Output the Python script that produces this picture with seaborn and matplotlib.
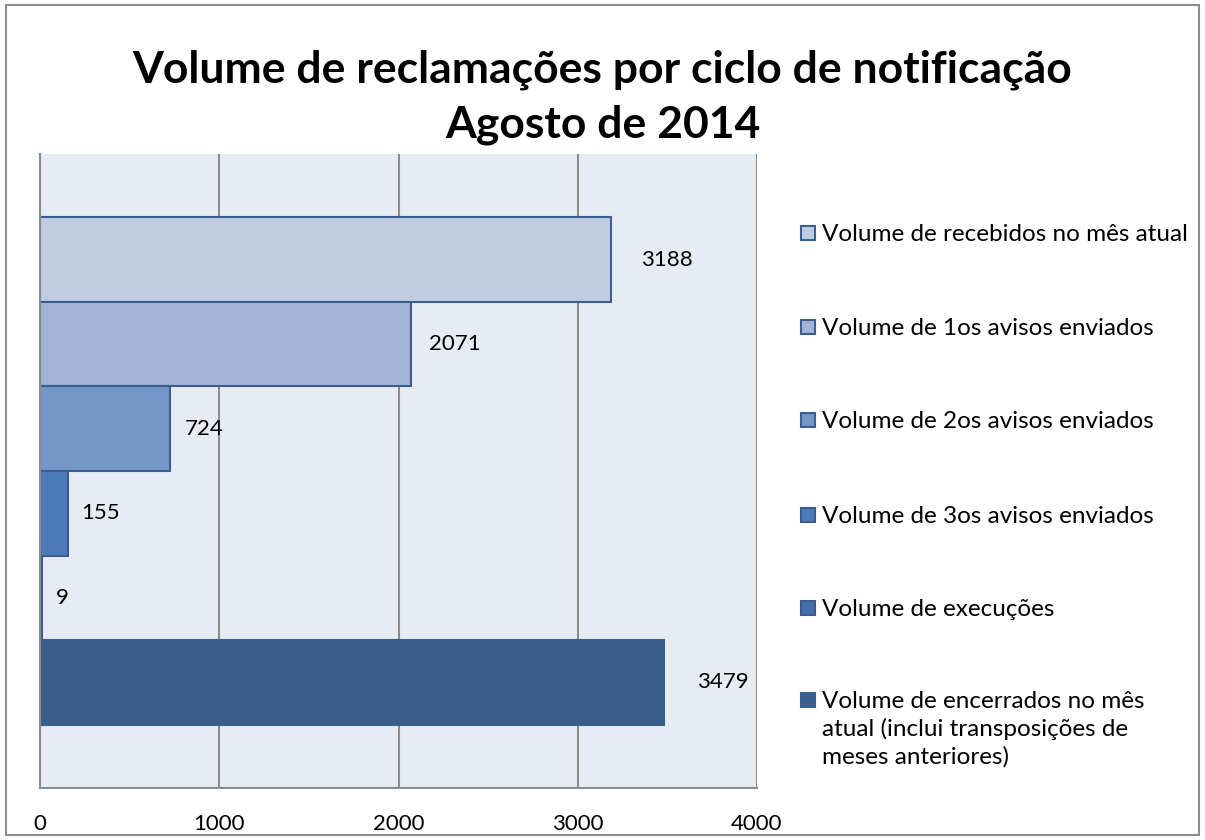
import matplotlib
matplotlib.use("Agg")
import matplotlib.pyplot as plt
import seaborn as sns
import pandas as pd
from matplotlib.patches import Rectangle

series = [
    "Volume de recebidos no mês atual",
    "Volume de 1os avisos enviados",
    "Volume de 2os avisos enviados",
    "Volume de 3os avisos enviados",
    "Volume de execuções",
    "Volume de encerrados no mês\natual (inclui transposições de\nmeses anteriores)",
]
values = [3188, 2071, 724, 155, 9, 3479]
colors = ["#C1CCE1", "#A1B4D5", "#7496C6", "#4D7BBA", "#4470AC", "#3A5E8C"]
x_ticks = [0, 1000, 2000, 3000, 4000]

df = pd.DataFrame({"grupo": ["Agosto"] * len(series), "serie": series, "valor": values})

sns.set_style("white")
plt.rcParams["font.family"] = ["Lato", "DejaVu Sans"]
plt.rcParams["text.color"] = "black"
plt.rcParams["xtick.labelcolor"] = "black"

W, H = 1205, 840
fig = plt.figure(figsize=(W / 100, H / 100), dpi=100)
ax = fig.add_axes([40 / W, 1 - 788 / H, 717 / W, 634 / H])

sns.barplot(data=df, y="grupo", x="valor", hue="serie", hue_order=series,
            palette=colors, saturation=1, orient="h", width=0.8, dodge=True,
            edgecolor="#3A5F8E", linewidth=1.5, ax=ax)

ax.set_facecolor("#E7ECF4")
ax.set_xlim(0, 4000)
ax.set_xticks(x_ticks)
ax.set_xticklabels([str(t) for t in x_ticks], fontsize=16, color="black")
ax.set_yticks([])
ax.set_xlabel("")
ax.set_ylabel("")
ax.grid(axis="x", color="#8C8C8C", linewidth=1.5)
ax.set_axisbelow(True)
for side in ["top", "right"]:
    ax.spines[side].set_visible(False)
for side in ["left", "bottom"]:
    ax.spines[side].set_color("#8C8C8C")
    ax.spines[side].set_linewidth(1.5)
ax.tick_params(axis="x", direction="out", length=7, width=1.5, color="#8C8C8C", pad=12)

# label offsets (points) as in the original chart
pads = [21, 13, 11, 10, 10, 24]
for cont, p in zip(ax.containers, pads):
    ax.bar_label(cont, fmt="%d", padding=p, fontsize=16, color="black")

ax.get_legend().remove()

# legend drawn by hand so the multi-line entry keeps its marker on the first line
leg_y = [233, 327, 420, 515, 608, 700]
for lab, c, y in zip(series, colors, leg_y):
    fig.patches.append(Rectangle((801 / W, 1 - (y + 7) / H), 14 / W, 14 / H,
                                 transform=fig.transFigure, facecolor=c,
                                 edgecolor="#3A5F8E", linewidth=1.5))
    fig.text(822 / W, 1 - (y - 9) / H, lab, fontsize=17.5, va="top", ha="left",
             linespacing=1.35, color="black")

fig.text(0.5, 1 - 70 / H, "Volume de reclamações por ciclo de notificação",
         fontsize=32, fontweight="bold", ha="center", va="center", color="black")
fig.text(0.5, 1 - 125 / H, "Agosto de 2014",
         fontsize=32, fontweight="bold", ha="center", va="center", color="black")

fig.patches.append(Rectangle((6 / W, 5 / H), 1193 / W, 830 / H, transform=fig.transFigure,
                             fill=False, edgecolor="#8C8C8C", linewidth=1.5))

fig.savefig("out.png", dpi=100)
